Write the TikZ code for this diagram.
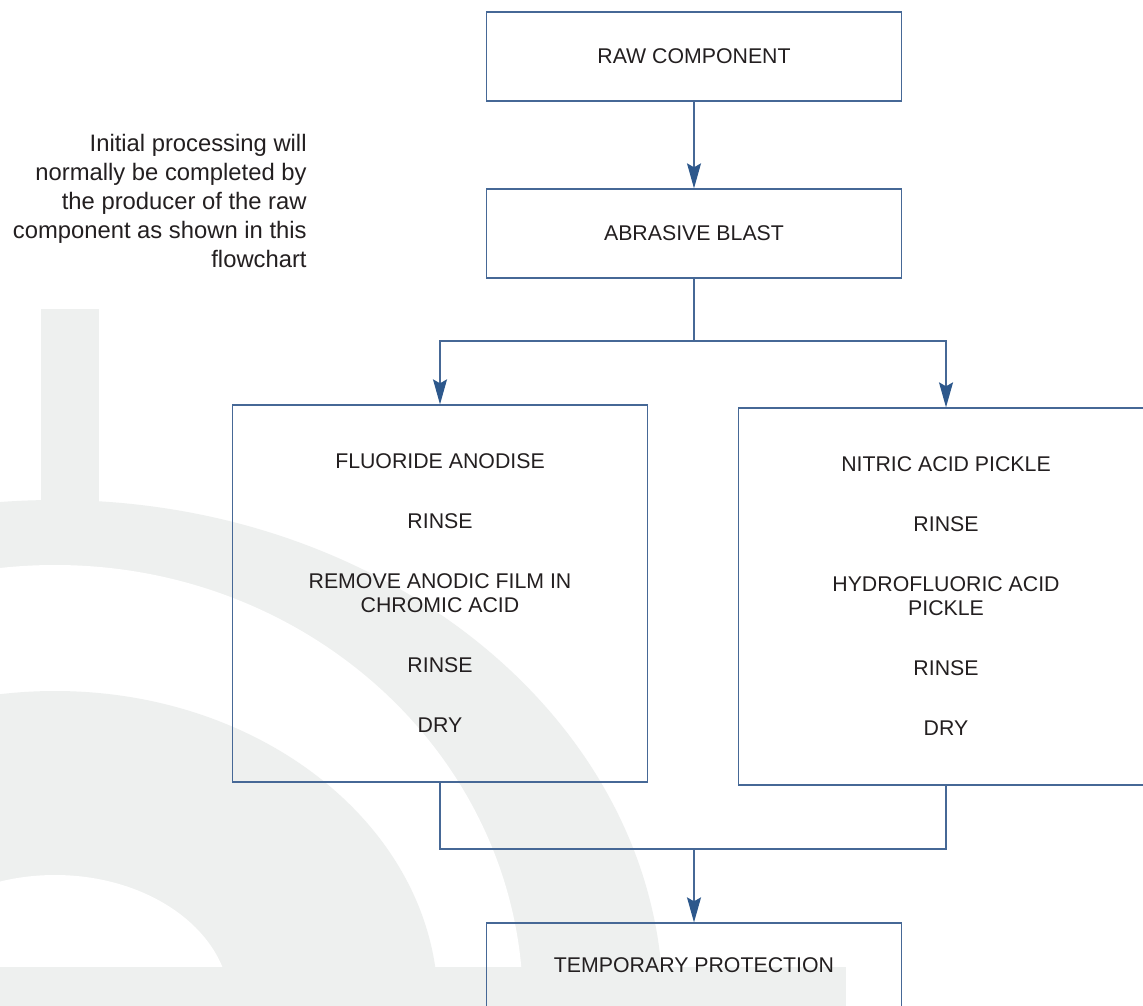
\documentclass[tikz,border=0pt]{standalone}
\usepackage{fontspec}
\setmainfont{Liberation Sans}
\usetikzlibrary{arrows.meta}

\definecolor{boxblue}{RGB}{70,104,150}
\definecolor{tipblue}{RGB}{45,88,140}
\definecolor{wmgray}{RGB}{238,240,239}
\definecolor{ink}{RGB}{35,31,32}

\newcommand{\stepfont}{\fontsize{10.65pt}{12pt}\selectfont}
\newcommand{\notefont}{\fontsize{11.9pt}{14.6pt}\selectfont}

\begin{document}
\begin{tikzpicture}[x=0.5pt, y=-0.5pt]
  \tikzstyle{stepbox} = [rectangle, draw=boxblue, line width=0.65pt, minimum width=207.5pt, inner sep=0pt, align=center, font=\stepfont, text=ink]
  \tikzstyle{smallbox} = [stepbox, minimum height=44.5pt]
  \tikzstyle{bigbox} = [stepbox, minimum height=188.5pt]
  \tikzstyle{line} = [draw=boxblue, line width=0.65pt]
  \tikzstyle{flow} = [line, -{Stealth[length=12.5pt, width=7pt, inset=2pt, color=tipblue]}]

  \useasboundingbox (0,0) rectangle (1143,1005);
  \clip (0,0) rectangle (1143,1005);
  \fill[white] (0,0) rectangle (1143,1005);

  % Draw background mark
  \fill[wmgray] (55,1005) ellipse [x radius=608, y radius=505];
  \fill[white] (55,1005) ellipse [x radius=468, y radius=440];
  \fill[wmgray] (55,1005) ellipse [x radius=383, y radius=314];
  \fill[white] (55,1005) ellipse [x radius=175, y radius=130];
  \fill[wmgray] (0,967) rectangle (846,1010);
  \fill[wmgray] (41,309) rectangle (99,520);

  % Draw note
  \node[anchor=east, inner sep=0pt, align=right, font=\notefont, text=ink] (note) at (307,201)
    {Initial processing will\\normally be completed by\\the producer of the raw\\component as shown in this\\flowchart};

  % Draw process boxes
  \node[smallbox] (raw) at (694,56.5) {RAW COMPONENT};
  \node[smallbox] (blast) at (694,233.5) {ABRASIVE BLAST};
  \node[bigbox] (fluoride) at (440,593.5)
    {FLUORIDE ANODISE\\[18pt]RINSE\\[18pt]REMOVE ANODIC FILM IN\\CHROMIC ACID\\[18pt]RINSE\\[18pt]DRY};
  \node[bigbox] (nitric) at (946,596.5)
    {NITRIC ACID PICKLE\\[18pt]RINSE\\[18pt]HYDROFLUORIC ACID\\PICKLE\\[18pt]RINSE\\[18pt]DRY};
  \node[stepbox, minimum height=42.5pt] (temp) at (694,965.5) {TEMPORARY PROTECTION};

  % Connections
  \coordinate (split) at (694,341);
  \coordinate (merge) at (694,849);
  \draw[flow] (raw) -- (blast);
  \draw[line] (blast) -- (split);
  \foreach \branch in {fluoride, nitric}
    {
    \draw[flow] (split) -| (\branch);
    \draw[line] (\branch) |- (merge);
    }
  \draw[flow] (merge) -- (temp);

\end{tikzpicture}
\end{document}
